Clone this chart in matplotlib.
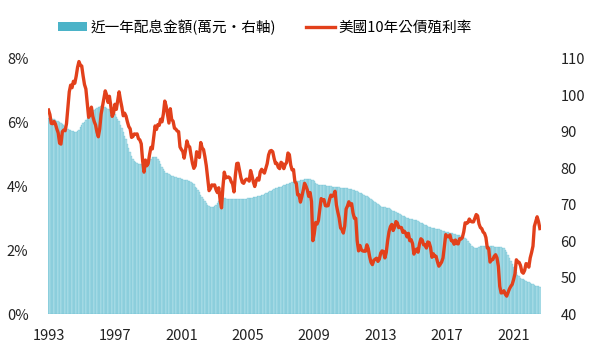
import matplotlib
matplotlib.use("Agg")
import matplotlib.pyplot as plt
import numpy as np
from matplotlib.patches import Patch
from matplotlib.lines import Line2D

plt.rcParams['font.family'] = ['Noto Sans CJK TC', 'DejaVu Sans']

start_year = 1993
x_ticks = [1993, 1997, 2001, 2005, 2009, 2013, 2017, 2021]
left_ticks = [0, 2, 4, 6, 8]
right_ticks = [40, 50, 60, 70, 80, 90, 100, 110]

# US 10-year Treasury yield (%), monthly, Jan 1993 - Aug 2022
yield_pct = [
    6.40, 6.26, 5.98, 5.97, 6.04, 5.96, 5.81, 5.68, 5.36, 5.33, 5.72, 5.77,
    5.75, 5.97, 6.48, 6.97, 7.18, 7.10, 7.30, 7.24, 7.46, 7.74, 7.92, 7.81,
    7.78, 7.47, 7.20, 7.06, 6.63, 6.17, 6.28, 6.49, 6.20, 6.04, 5.93, 5.71,
    5.56, 5.81, 6.27, 6.51, 6.74, 7.00, 6.87, 6.64, 6.83, 6.53, 6.20, 6.30,
    6.58, 6.42, 6.69, 6.97, 6.71, 6.49, 6.22, 6.30, 6.21, 6.03, 5.88, 5.81,
    5.54, 5.57, 5.65, 5.64, 5.65, 5.50, 5.46, 5.34, 4.81, 4.45, 4.83, 4.65,
    4.72, 5.00, 5.23, 5.18, 5.54, 5.90, 5.79, 5.94, 5.92, 6.11, 6.03, 6.28,
    6.68, 6.52, 6.26, 5.99, 6.44, 6.10, 6.05, 5.83, 5.80, 5.74, 5.72, 5.24,
    5.16, 5.10, 4.89, 5.14, 5.43, 5.28, 5.24, 4.97, 4.73, 4.57, 4.65, 5.09,
    5.04, 4.91, 5.38, 5.21, 5.16, 4.93, 4.65, 4.26, 3.87, 3.94, 4.05, 4.03,
    4.05, 3.90, 3.81, 3.96, 3.57, 3.33, 3.98, 4.45, 4.27, 4.29, 4.30, 4.27,
    4.15, 4.08, 3.83, 4.35, 4.72, 4.73, 4.50, 4.28, 4.13, 4.10, 4.19, 4.23,
    4.22, 4.17, 4.50, 4.34, 4.14, 4.00, 4.18, 4.26, 4.20, 4.46, 4.54, 4.47,
    4.42, 4.57, 4.72, 4.99, 5.11, 5.13, 5.09, 4.88, 4.72, 4.73, 4.60, 4.56,
    4.76, 4.72, 4.56, 4.69, 4.75, 5.05, 5.00, 4.67, 4.52, 4.53, 4.15, 4.10,
    3.74, 3.74, 3.51, 3.68, 3.88, 4.10, 4.01, 3.89, 3.69, 3.81, 3.53, 2.30,
    2.52, 2.87, 2.82, 2.93, 3.29, 3.62, 3.56, 3.59, 3.40, 3.39, 3.40, 3.59,
    3.73, 3.69, 3.73, 3.85, 3.42, 3.20, 3.01, 2.70, 2.65, 2.54, 2.76, 3.29,
    3.39, 3.52, 3.41, 3.46, 3.17, 3.00, 3.00, 2.30, 1.98, 2.15, 2.01, 1.98,
    1.97, 1.97, 2.17, 2.05, 1.80, 1.62, 1.55, 1.68, 1.72, 1.75, 1.65, 1.72,
    1.91, 1.98, 1.96, 1.76, 1.93, 2.30, 2.58, 2.74, 2.81, 2.62, 2.72, 2.90,
    2.86, 2.71, 2.72, 2.71, 2.56, 2.60, 2.54, 2.42, 2.53, 2.30, 2.33, 2.21,
    1.88, 1.98, 2.04, 1.94, 2.20, 2.36, 2.32, 2.17, 2.17, 2.07, 2.26, 2.24,
    2.09, 1.78, 1.89, 1.81, 1.81, 1.64, 1.50, 1.56, 1.63, 1.76, 2.14, 2.49,
    2.43, 2.42, 2.48, 2.30, 2.30, 2.19, 2.32, 2.21, 2.20, 2.36, 2.35, 2.40,
    2.58, 2.86, 2.84, 2.87, 2.98, 2.91, 2.89, 2.89, 3.00, 3.12, 3.08, 2.83,
    2.71, 2.68, 2.57, 2.53, 2.40, 2.07, 2.06, 1.63, 1.70, 1.71, 1.81, 1.86,
    1.76, 1.50, 0.87, 0.66, 0.67, 0.73, 0.62, 0.56, 0.68, 0.79, 0.87, 0.93,
    1.08, 1.26, 1.70, 1.64, 1.62, 1.52, 1.32, 1.28, 1.37, 1.58, 1.56, 1.47,
    1.76, 1.93, 2.13, 2.75, 2.90, 3.05, 2.90, 2.68,
]

# Trailing 12-month distribution amount (10k NTD, right axis), monthly
dividend = [
    93.8, 93.7, 93.6, 93.5, 93.4, 93.3, 93.1, 92.9, 92.7, 92.4, 92.1, 91.8,
    91.5, 91.2, 90.9, 90.6, 90.4, 90.2, 90.1, 90.0, 90.0, 90.2, 90.6, 91.2,
    91.8, 92.3, 92.8, 93.3, 93.8, 94.3, 94.8, 95.2, 95.6, 96.0, 96.3, 96.6,
    96.8, 96.9, 97.0, 97.0, 96.9, 96.8, 96.6, 96.4, 96.2, 95.9, 95.6, 95.2,
    94.8, 94.2, 93.6, 92.9, 92.0, 91.0, 90.0, 89.0, 88.0, 86.8, 85.6, 84.4,
    83.4, 82.6, 82.0, 81.6, 81.4, 81.3, 81.2, 81.2, 81.2, 81.3, 81.4, 81.5,
    81.6, 82.0, 82.6, 83.0, 83.2, 83.2, 83.0, 82.6, 82.0, 81.2, 80.4, 79.8,
    79.2, 78.8, 78.6, 78.4, 78.2, 78.0, 77.8, 77.6, 77.5, 77.4, 77.3, 77.2,
    77.1, 77.0, 76.9, 76.8, 76.7, 76.6, 76.4, 76.2, 76.0, 75.6, 75.0, 74.6,
    74.0, 73.4, 72.8, 72.2, 71.6, 71.0, 70.5, 70.0, 69.6, 69.4, 69.3, 69.4,
    69.6, 70.0, 70.5, 71.0, 71.4, 71.6, 71.8, 71.8, 71.8, 71.7, 71.7, 71.7,
    71.7, 71.7, 71.7, 71.6, 71.6, 71.6, 71.6, 71.6, 71.6, 71.7, 71.7, 71.7,
    71.8, 71.8, 71.9, 71.9, 72.0, 72.1, 72.2, 72.3, 72.4, 72.5, 72.6, 72.8,
    73.0, 73.1, 73.3, 73.5, 73.7, 73.9, 74.1, 74.3, 74.5, 74.7, 74.8, 74.9,
    75.0, 75.1, 75.3, 75.4, 75.6, 75.7, 75.9, 76.0, 76.1, 76.2, 76.3, 76.4,
    76.5, 76.6, 76.7, 76.8, 76.9, 77.0, 77.0, 77.1, 77.1, 77.0, 76.9, 76.8,
    76.4, 76.0, 75.7, 75.5, 75.4, 75.3, 75.3, 75.3, 75.3, 75.2, 75.2, 75.1,
    75.1, 75.0, 75.0, 74.9, 74.9, 74.8, 74.8, 74.7, 74.7, 74.6, 74.6, 74.5,
    74.5, 74.4, 74.3, 74.2, 74.1, 74.0, 73.9, 73.7, 73.5, 73.3, 73.1, 72.9,
    72.7, 72.5, 72.3, 72.1, 71.9, 71.7, 71.4, 71.1, 70.8, 70.5, 70.2, 69.9,
    69.7, 69.5, 69.4, 69.3, 69.2, 69.1, 69.0, 68.8, 68.6, 68.4, 68.2, 68.0,
    67.8, 67.6, 67.4, 67.2, 67.0, 66.8, 66.6, 66.4, 66.3, 66.2, 66.1, 66.0,
    65.9, 65.8, 65.7, 65.5, 65.3, 65.1, 64.9, 64.7, 64.5, 64.3, 64.1, 63.9,
    63.8, 63.7, 63.6, 63.5, 63.4, 63.3, 63.2, 63.1, 63.0, 62.9, 62.8, 62.6,
    62.5, 62.4, 62.3, 62.2, 62.1, 62.0, 61.9, 61.8, 61.7, 61.6, 61.5, 61.4,
    61.2, 61.0, 60.6, 60.1, 59.6, 59.2, 58.8, 58.4, 58.2, 58.1, 58.2, 58.4,
    58.6, 58.7, 58.8, 58.8, 58.8, 58.8, 58.7, 58.7, 58.6, 58.6, 58.5, 58.5,
    58.5, 58.5, 58.4, 58.3, 58.2, 58.0, 57.6, 57.0, 56.2, 55.4, 54.6, 53.8,
    53.0, 52.2, 51.4, 50.8, 50.3, 50.0, 49.7, 49.5, 49.3, 49.1, 48.9, 48.7,
    48.5, 48.3, 48.1, 47.9, 47.8, 47.7, 47.6, 47.5,
]

bar_label = '近一年配息金額(萬元・右軸)'
line_label = '美國10年公債殖利率'

n = len(yield_pct)
x = start_year + np.arange(n) / 12.0
xb = start_year + np.arange(len(dividend)) / 12.0

bar_color = '#4bb3c8'
bar_fill = '#b0dfe9'
line_color = '#e2401b'

fig = plt.figure(figsize=(5.93, 3.55), dpi=100)
ax_bar = fig.add_axes([48/593, 41/355, 493/593, 255/355])
ax_bar.bar(xb, np.array(dividend) - 40, bottom=40, width=1.0/12,
           color=bar_fill, edgecolor=bar_color, linewidth=0.18, align='center')
ax_bar.set_ylim(40, 110)
ax_bar.set_xlim(1992.97, 2022.65)
ax_bar.set_xticks(x_ticks)
ax_bar.set_xticklabels([str(t) for t in x_ticks])

ax_line = ax_bar.twinx()
ax_line.plot(x, yield_pct, color=line_color, linewidth=2.4, solid_joinstyle='round')
ax_line.set_ylim(0, 8)
ax_line.set_yticks(left_ticks)
ax_line.set_yticklabels([f'{t}%' for t in left_ticks])
ax_line.yaxis.set_ticks_position('left')
ax_line.yaxis.set_label_position('left')
ax_line.tick_params(axis='y', labelleft=True, labelright=False)

ax_bar.set_yticks(right_ticks)
ax_bar.yaxis.set_ticks_position('right')
ax_bar.tick_params(axis='y', labelleft=False, labelright=True)

for a in (ax_bar, ax_line):
    for s in a.spines.values():
        s.set_visible(False)
    a.tick_params(length=0, labelsize=10.5, colors='#222222')
ax_bar.tick_params(axis='x', pad=11)
ax_bar.tick_params(axis='y', pad=14)
ax_line.tick_params(axis='y', pad=14)

handles = [Patch(facecolor=bar_color, edgecolor='none'),
           Line2D([0], [0], color=line_color, linewidth=2.4)]
fig.legend(handles, [bar_label, line_label], loc='center',
           bbox_to_anchor=(265/593, 1 - 27/355), ncol=2, frameon=False,
           fontsize=10.5, handlelength=2.0, handleheight=0.6, handletextpad=0.25,
           columnspacing=2.0, borderaxespad=0)

fig.savefig('out.png', dpi=100)
